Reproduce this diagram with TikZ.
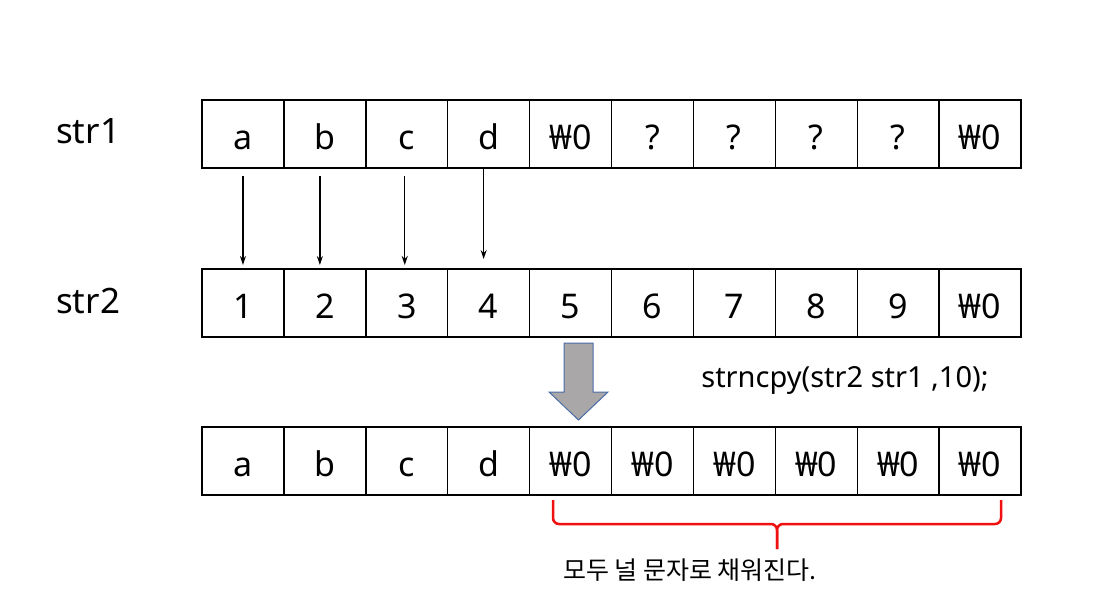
\documentclass[tikz,border=0pt]{standalone}
\usepackage{fontspec}
\setmainfont{Noto Sans}
\newfontfamily\kr{Noto Sans CJK KR}
\usetikzlibrary{calc,arrows.meta}
\definecolor{arrowfill}{HTML}{A9A7A7}
\definecolor{arrowedge}{HTML}{4A6CA8}
\definecolor{bracered}{HTML}{F01010}
\tikzset{
  cell/.style={draw=black, line width=1.4pt, minimum width=81.9pt, minimum height=68pt, inner sep=0pt, outer sep=0pt, text height=30pt, text depth=0pt, font=\fontsize{34}{38}\selectfont, anchor=north west},
  lbl/.style={font=\fontsize{35}{40}\selectfont, inner sep=0pt},
  cpy/.style={-{Stealth[length=9pt,width=6pt]}, line width=1.3pt},
}
\begin{document}
\begin{tikzpicture}[x=1pt,y=-1pt]
\useasboundingbox (0,0) rectangle (1114,608);
% rows
\foreach \t [count=\i] in {a,b,c,d,₩0,?,?,?,?,₩0}
  \node[cell] (r1c\i) at ({202+(\i-1)*81.9},100) {\t};
\foreach \t [count=\i] in {1,2,3,4,5,6,7,8,9,₩0}
  \node[cell] (r2c\i) at ({202+(\i-1)*81.9},269) {\t};
\foreach \t [count=\i] in {a,b,c,d,₩0,₩0,₩0,₩0,₩0,₩0}
  \node[cell] (r3c\i) at ({202+(\i-1)*81.9},427) {\t};
\node[lbl, anchor=base west] (s1) at (56,143) {str1};
\node[lbl, anchor=base west] (s2) at (56,313) {str2};
% copy arrows
\draw[cpy] ($(r1c1.south)+(0,8)$) -- ($(r2c1.north)+(0,-4)$);
\draw[cpy] ($(r1c2.south)+(-5,8)$) -- ($(r2c2.north)+(-5,-4)$);
\draw[cpy] ($(r1c3.south)+(-2,8)$) -- ($(r2c3.north)+(-2,-4)$);
\draw[cpy] ($(r1c4.south)+(-5,0)$) -- ($(r2c4.north)+(-5,-10)$);
% block arrow
\draw[fill=arrowfill, draw=arrowedge, line width=1pt]
  (564,343) -- (593,343) -- (593,392) -- (608,392) -- (578.5,420) -- (549,392) -- (564,392) -- cycle;
\node[font=\fontsize{29}{33}\selectfont, anchor=center, inner sep=0pt] (cmd) at (845,380) {strncpy(str2 str1 ,10);};
% brace
\coordinate (bl) at (553,500);
\coordinate (br) at (1001,500);
\coordinate (bt) at (777,549);
\draw[bracered, line width=2.5pt, rounded corners=6pt]
  (bl) -- (553,524) -- (777,524) -- (bt);
\draw[bracered, line width=2.5pt, rounded corners=6pt]
  (br) -- (1001,524) -- (777,524) -- (bt);
\node[font=\kr\fontsize{25}{29}\selectfont, anchor=center, inner sep=0pt] (note) at (690,570) {모두 널 문자로 채워진다.};
\end{tikzpicture}
\end{document}
